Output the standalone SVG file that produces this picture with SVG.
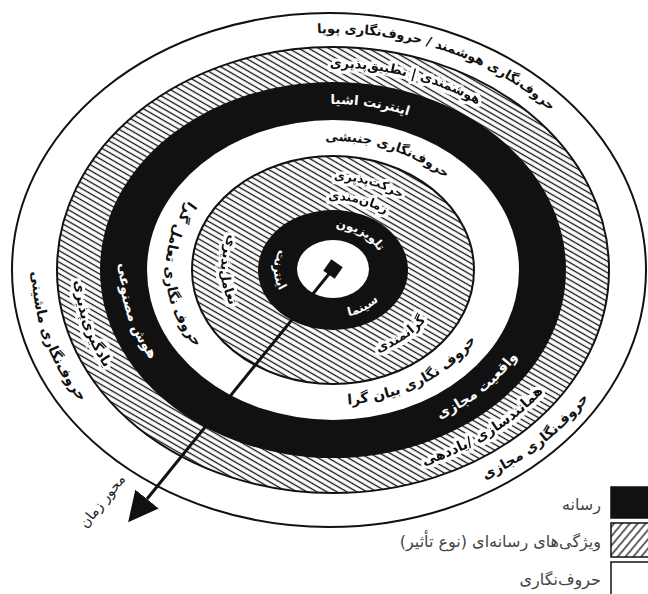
<svg xmlns="http://www.w3.org/2000/svg" width="648" height="594" viewBox="0 0 648 594">
<style>
.ln{stroke:#111;stroke-width:2}
.lb{font-family:"DejaVu Sans",sans-serif;font-weight:bold;font-size:14px;direction:rtl}
.dk{fill:#111}
.hl{filter:url(#halo)}
.wt{fill:#fff}
.sm{font-size:12px}
.md{font-size:13px}
.lg{font-family:"DejaVu Sans",sans-serif;font-size:16px;fill:#444;direction:rtl}
</style>
<defs>
<filter id="halo" filterUnits="userSpaceOnUse" x="0" y="0" width="648" height="594" color-interpolation-filters="sRGB">
<feMorphology in="SourceAlpha" operator="dilate" radius="2.5" result="d"/>
<feFlood flood-color="#ffffff" flood-opacity="1" result="f"/>
<feComposite in="f" in2="d" operator="in" result="h"/>
<feMerge><feMergeNode in="h"/><feMergeNode in="SourceGraphic"/></feMerge>
</filter>
<pattern id="hatch" patternUnits="userSpaceOnUse" width="5" height="5" patternTransform="rotate(30)">
<rect width="5" height="5" fill="#fff"/>
<line x1="0" y1="2.5" x2="5" y2="2.5" stroke="#111" stroke-width="1.3"/>
</pattern>
<pattern id="hatchL" patternUnits="userSpaceOnUse" width="6" height="6" patternTransform="rotate(-50)">
<rect width="6" height="6" fill="#fff"/>
<line x1="0" y1="3" x2="6" y2="3" stroke="#111" stroke-width="1.3"/>
</pattern>
<marker id="ah" markerUnits="userSpaceOnUse" viewBox="0 0 30 30" markerWidth="30" markerHeight="30" refX="0" refY="15" orient="auto">
<path d="M0,0 L30,15 L0,30 Z" fill="#111"/>
</marker>
<path id="p1a" d="M40.9,211.2 A301,243 0 0 0 123.9,444.8"/>
<path id="p1b" d="M435.9,498.3 A301,243 0 0 0 615.9,353.1"/>
<path id="p1c" d="M272.1,38.2 A293,237 0 0 1 581.5,144.4"/>
<path id="p2a" d="M78.4,233.8 A258.5,208.5 0 0 0 135.0,404.0"/>
<path id="p2b" d="M391.2,473.2 A258.5,208.5 0 0 0 563.3,364.7"/>
<path id="p2c" d="M259.8,76.3 A250.5,202.5 0 0 1 533.1,148.1"/>
<path id="p3a" d="M127.8,222.6 A213.5,172 0 0 0 179.4,389.5"/>
<path id="p3b" d="M391.8,435.3 A213.5,172 0 0 0 540.2,311.6"/>
<path id="p3c" d="M249.4,118.4 A205.5,166 0 0 1 480.8,154.7"/>
<path id="p4a" d="M201.0,186.9 A167.5,135 0 0 0 208.5,360.3"/>
<path id="p4b" d="M312.6,404.0 A167.5,135 0 0 0 493.2,309.5"/>
<path id="p4c" d="M283.7,147.3 A159.5,129 0 0 1 473.8,209.4"/>
<path id="p5a" d="M253.8,206.4 A112,90 0 0 0 253.8,333.6"/>
<path id="p5b" d="M336.9,359.9 A112,90 0 0 0 443.9,282.5"/>
<path id="p5c" d="M294.7,185.4 A112,90 0 0 1 430.0,225.0"/>
<path id="p5d" d="M295.8,206.6 A88,70 0 0 1 410.0,236.1"/>
<path id="p6a" d="M303.5,228.4 A59,48 0 0 0 303.5,311.6"/>
<path id="p6b" d="M322.8,317.3 A59,48 0 0 0 391.1,278.3"/>
<path id="p6c" d="M319.8,229.4 A51,42 0 0 1 383.8,266.3"/>
</defs>
<rect width="648" height="594" fill="#fff"/>

<g id="ring-typography-outer">
<ellipse cx="329" cy="270" rx="317" ry="257" fill="#fff" class="ln"/>
<text class="lb dk"><textPath href="#p1a" startOffset="50%" text-anchor="middle">حروف‌نگاری ماشینی</textPath></text>
<text class="lb dk"><textPath href="#p1b" startOffset="50%" text-anchor="middle">حروف‌نگاری مجازی</textPath></text>
<text class="lb dk md"><textPath href="#p1c" startOffset="50%" text-anchor="middle">حروف‌نگاری هوشمند / حروف‌نگاری پویا</textPath></text>
</g>

<g id="ring-features-outer">
<ellipse cx="333" cy="270" rx="276" ry="223" fill="url(#hatch)" class="ln"/>
<text class="lb dk hl"><textPath href="#p2a" startOffset="50%" text-anchor="middle">یادگیری‌پذیری</textPath></text>
<text class="lb dk hl"><textPath href="#p2b" startOffset="50%" text-anchor="middle">همانندسازی /یاددهی</textPath></text>
<text class="lb dk hl md"><textPath href="#p2c" startOffset="50%" text-anchor="middle">هوشمندی | تطبیق‌پذیری</textPath></text>
</g>

<g id="ring-media-outer">
<ellipse cx="333" cy="270" rx="233" ry="188" fill="#111"/>
<text class="lb wt"><textPath href="#p3a" startOffset="50%" text-anchor="middle">هوش مصنوعی</textPath></text>
<text class="lb wt"><textPath href="#p3b" startOffset="50%" text-anchor="middle">واقعیت مجازی</textPath></text>
<text class="lb wt md"><textPath href="#p3c" startOffset="50%" text-anchor="middle">اینترنت اشیا</textPath></text>
</g>

<g id="ring-typography-inner">
<ellipse cx="333" cy="270" rx="186" ry="150" fill="#fff"/>
<text class="lb dk"><textPath href="#p4a" startOffset="50%" text-anchor="middle">حروف نگاری تعامل گرا</textPath></text>
<text class="lb dk"><textPath href="#p4b" startOffset="50%" text-anchor="middle">حروف نگاری بیان گرا</textPath></text>
<text class="lb dk md"><textPath href="#p4c" startOffset="50%" text-anchor="middle">حروف‌نگاری جنبشی</textPath></text>
</g>

<g id="ring-features-inner">
<ellipse cx="333" cy="270" rx="141" ry="114" fill="url(#hatch)" class="ln"/>
<text class="lb dk hl md"><textPath href="#p5a" startOffset="50%" text-anchor="middle">تعامل‌پذیری</textPath></text>
<text class="lb dk hl md"><textPath href="#p5b" startOffset="50%" text-anchor="middle">گرانمندی</textPath></text>
<text class="lb dk hl sm"><textPath href="#p5c" startOffset="50%" text-anchor="middle">حرکت‌پذیری</textPath></text>
<text class="lb dk hl sm"><textPath href="#p5d" startOffset="50%" text-anchor="middle">زمان‌مندی</textPath></text>
</g>

<g id="ring-media-inner">
<ellipse cx="333" cy="270" rx="75" ry="60" fill="#111"/>
<text class="lb wt sm"><textPath href="#p6a" startOffset="50%" text-anchor="middle">اینترنت</textPath></text>
<text class="lb wt sm"><textPath href="#p6b" startOffset="50%" text-anchor="middle">سینما</textPath></text>
<text class="lb wt sm"><textPath href="#p6c" startOffset="50%" text-anchor="middle">تلویزیون</textPath></text>
</g>

<g id="center">
<ellipse cx="333" cy="269" rx="36" ry="29" fill="#fff"/>
<rect x="326" y="262" width="14" height="14" fill="#111" transform="rotate(35 333 269)"/>
</g>

<g id="connectors">
<line x1="333" y1="269" x2="147" y2="499" stroke="#111" stroke-width="3" marker-end="url(#ah)"/>
<text class="lg" style="font-size:14px;fill:#222" transform="translate(106 504) rotate(-51)" text-anchor="middle">محور زمان</text>
</g>

<g id="legend">
<rect x="611" y="487" width="38" height="31" fill="#111" stroke="#111" stroke-width="1.5"/>
<rect x="611" y="523" width="38" height="34" fill="url(#hatchL)" stroke="#111" stroke-width="1.5"/>
<rect x="611" y="562" width="38" height="34" fill="#fff" stroke="#111" stroke-width="1.5"/>
<text class="lg" x="601" y="510" text-anchor="start">رسانه</text>
<text class="lg" x="601" y="547" text-anchor="start">ویژگی‌های رسانه‌ای (نوع تأثیر)</text>
<text class="lg" x="601" y="585" text-anchor="start">حروف‌نگاری</text>
</g>
</svg>
